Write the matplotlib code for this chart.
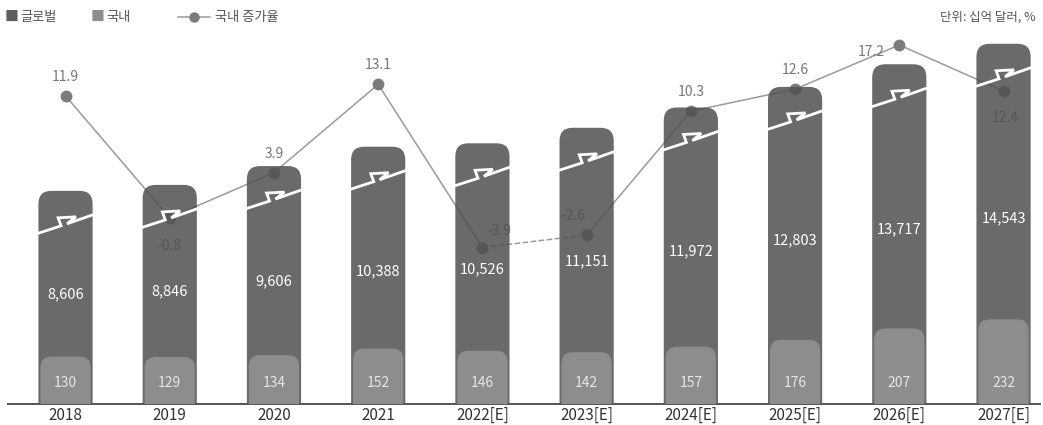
import numpy as np
import matplotlib
matplotlib.use("Agg")
import matplotlib.pyplot as plt
from matplotlib.patches import FancyBboxPatch
from matplotlib.lines import Line2D

plt.rcParams['font.family'] = ['Noto Sans CJK KR', 'DejaVu Sans']

years = ['2018', '2019', '2020', '2021', '2022[E]', '2023[E]',
         '2024[E]', '2025[E]', '2026[E]', '2027[E]']
global_vals = [8606, 8846, 9606, 10388, 10526, 11151, 11972, 12803, 13717, 14543]
domestic_vals = [130, 129, 134, 152, 146, 142, 157, 176, 207, 232]
growth = [11.9, -0.8, 3.9, 13.1, -3.9, -2.6, 10.3, 12.6, 17.2, 12.4]
growth_labels = ['11.9', '-0.8', '3.9', '13.1', '-3.9', '-2.6', '10.3', '12.6', '17.2', '12.4']

W, H = 1043, 425
fig = plt.figure(figsize=(W / 100, H / 100), dpi=100)
ax_l, ax_b, ax_w, ax_h = 8 / W, 21 / H, 1032 / W, 374 / H
ax_line = fig.add_axes([ax_l, ax_b, ax_w, ax_h])
ax_g = ax_line.twinx()
ax_d = ax_line.twinx()

xlim = (-0.552, 9.35)
g_top, d_top = 15100, 1025
gr_lim = (-20.2, 18.76)
for a in (ax_line, ax_g, ax_d):
    a.set_xlim(*xlim)
    a.set_yticks([])
    for s in a.spines.values():
        s.set_visible(False)
    a.patch.set_visible(False)
ax_line.set_ylim(*gr_lim)
ax_g.set_ylim(0, g_top)
ax_d.set_ylim(0, d_top)

px_x = (xlim[1] - xlim[0]) / 1032.0       # x units per pixel
px_g = g_top / 374.0                       # global units per pixel
px_d = d_top / 374.0

x = np.arange(len(years))
bw = 0.52

# growth line (behind bars)
line_c = '#9a9a9a'
for i in range(len(x) - 1):
    ls = '--' if i == 4 else '-'
    ax_line.plot(x[i:i + 2], growth[i:i + 2], color=line_c, lw=1.1, ls=ls, zorder=1)
ax_line.plot(x, growth, 'o', color='#7b7b7b', ms=7.5, zorder=1)
offsets = [(0, 12), (0, -21), (0, 12), (0, 12), (17, 10), (-13, 12),
           (0, 12), (0, 12), (-28, 0), (2, -20)]
for xi, v, lab, (dx, dy) in zip(x, growth, growth_labels, offsets):
    ax_line.annotate(lab, (xi, v), xytext=(dx * 0.72, dy * 0.72), textcoords='offset points',
                     ha='center', va='bottom' if dy > 0 else 'top', fontsize=10,
                     color='#777777', zorder=1)

# global bars (rounded, slightly transparent so line shows through)
r_px = 13
for xi, v in zip(x, global_vals):
    p = FancyBboxPatch((xi - bw / 2, -30 * px_g), bw, v + 30 * px_g,
                       boxstyle='round,pad=0,rounding_size=%f' % (r_px * px_x),
                       mutation_aspect=px_g / px_x, fc='#515151', ec='none',
                       alpha=0.86, zorder=2)
    ax_g.add_patch(p)
    # break mark
    pts = np.array([(-2, 0), (23, 8), (20, 16), (38, 17), (29, 10), (57, 19.7)])
    bx = xi - bw / 2 + pts[:, 0] * (bw / px_x / 55.0) * px_x
    by = v - 43 * px_g + pts[:, 1] * px_g
    ax_g.plot(bx, by, color='white', lw=2.0, solid_joinstyle='miter', zorder=4)
    ax_g.text(xi, v * 0.515, f'{v:,}', ha='center', va='center', fontsize=10.5,
              color='white', zorder=5)

# domestic bars
for xi, v in zip(x, domestic_vals):
    p = FancyBboxPatch((xi - bw / 2 + 2 * px_x, -30 * px_d), bw - 4 * px_x, v + 30 * px_d,
                       boxstyle='round,pad=0,rounding_size=%f' % (11 * px_x),
                       mutation_aspect=px_d / px_x, fc='#8d8d8d', ec='none', zorder=3)
    ax_d.add_patch(p)
    ax_d.text(xi, 21 * px_d, str(v), ha='center', va='center', fontsize=10,
              color='#e6e6e6', zorder=5)

# baseline and x labels
ax_line.spines['bottom'].set_visible(True)
ax_line.spines['bottom'].set_color('#555555')
ax_line.spines['bottom'].set_linewidth(1.4)
ax_line.spines['bottom'].set_zorder(6)
ax_line.set_xticks(x)
ax_line.set_xticklabels(years, fontsize=11, color='#333333')
ax_line.tick_params(axis='x', length=0, pad=2)
for a in (ax_g, ax_d):
    a.xaxis.set_visible(False)

# legend
fig.text(5 / W, 1 - 17 / H, '■', fontsize=10, color='#5e5e5e', va='center')
fig.text(20 / W, 1 - 17 / H, '글로벌', fontsize=9.5, color='#555555', va='center')
fig.text(91 / W, 1 - 17 / H, '■', fontsize=10, color='#8d8d8d', va='center')
fig.text(106 / W, 1 - 17 / H, '국내', fontsize=9.5, color='#555555', va='center')
fig.add_artist(Line2D([178 / W, 210 / W], [1 - 17 / H, 1 - 17 / H], color=line_c, lw=1.1,
                      transform=fig.transFigure))
fig.add_artist(Line2D([194 / W], [1 - 17 / H], marker='o', ms=6.5, color='#7b7b7b',
                      transform=fig.transFigure))
fig.text(215 / W, 1 - 17 / H, '국내 증가율', fontsize=9.5, color='#555555', va='center')
fig.text(1036 / W, 1 - 17 / H, '단위: 십억 달러, %', fontsize=9, color='#555555',
         va='center', ha='right')

fig.savefig('out.png', dpi=100)
